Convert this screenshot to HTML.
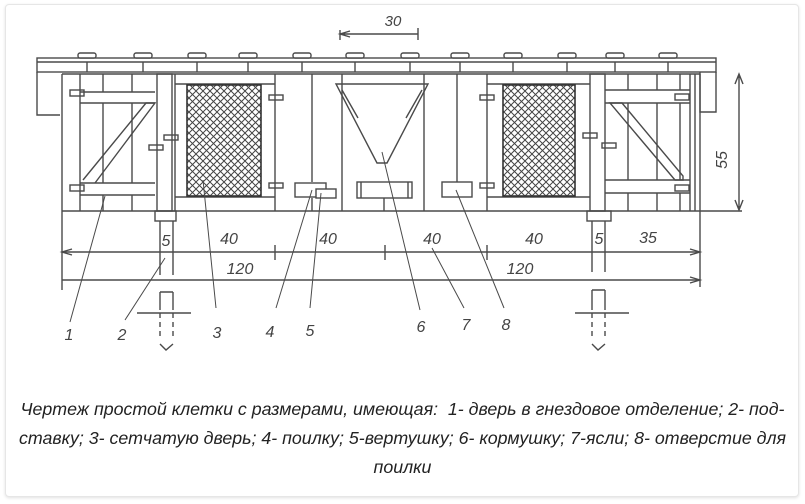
<!DOCTYPE html>
<html><head><meta charset="utf-8"><style>
html,body{margin:0;padding:0;background:#fff;width:805px;height:504px;overflow:hidden}
.card{position:absolute;left:5px;top:4px;width:792px;height:491px;border:1px solid #e6e6e6;border-radius:4px;box-shadow:0 1px 3px rgba(0,0,0,.12);background:#fff}
svg{position:absolute;left:0;top:0}
.cap{position:absolute;left:0;width:805px;top:395px;text-align:center;font-family:"Liberation Sans Narrow","Liberation Sans",sans-serif;font-style:italic;font-size:17.8px;line-height:29px;color:#222;white-space:nowrap}
</style></head><body>
<div class="card"></div>
<svg width="805" height="380" viewBox="0 0 805 380" fill="none" stroke="#4a4a4a" stroke-width="1.4" font-family="Liberation Sans, sans-serif" font-style="italic">
<rect x="37" y="58" width="679" height="14"/>
<line x1="37" y1="62" x2="716" y2="62"/>
<g fill="#fff">
<rect x="78" y="53" width="18" height="5" rx="2"/><rect x="134" y="53" width="18" height="5" rx="2"/><rect x="188" y="53" width="18" height="5" rx="2"/><rect x="239" y="53" width="18" height="5" rx="2"/><rect x="293" y="53" width="18" height="5" rx="2"/><rect x="346" y="53" width="18" height="5" rx="2"/><rect x="401" y="53" width="18" height="5" rx="2"/><rect x="451" y="53" width="18" height="5" rx="2"/><rect x="504" y="53" width="18" height="5" rx="2"/><rect x="558" y="53" width="18" height="5" rx="2"/><rect x="606" y="53" width="18" height="5" rx="2"/><rect x="659" y="53" width="18" height="5" rx="2"/>
</g>
<path d="M87 62V72M143 62V72M197 62V72M248 62V72M302 62V72M355 62V72M410 62V72M460 62V72M513 62V72M567 62V72M615 62V72M668 62V72"/>
<path d="M37 72V115H60"/>
<path d="M700 72V112H716V72"/>
<path d="M62 74H700M62 74V211M62 211H742M700 74V211M695 74V211M690 74V211"/>
<path d="M80 74V211M103 74V92M103 195V211M132 74V92M132 195V211M80 92H155M80 103H155M80 183H155M80 195H155M103 103V183M132 103V183"/>
<path d="M83 180L146 103H155L95 183"/>
<rect x="70" y="90" width="14" height="6"/><rect x="70" y="185" width="14" height="6"/>
<rect x="157" y="74" width="15" height="137"/>
<rect x="155" y="211" width="21" height="10"/>
<path d="M160 221V275M173 221V275M160 292V310M173 292V310M160 292H173M137 313H191"/>
<path d="M160 313V340M173 313V340" stroke-dasharray="5 4"/>
<path d="M160 344L166 350L173 344"/>
<rect x="149" y="145" width="14" height="5"/><rect x="164" y="135" width="14" height="5"/>
<path d="M175 74V211M175 84H275M175 197H275M275 74V211"/>
<defs><pattern id="m" width="7" height="7" patternUnits="userSpaceOnUse"><path d="M0 0L7 7M7 0L0 7" stroke="#444" stroke-width="1"/></pattern></defs>
<rect x="187" y="85" width="74" height="111" fill="url(#m)" stroke="#333" stroke-width="1.6"/>
<rect x="269" y="95" width="14" height="5"/><rect x="269" y="183" width="14" height="5"/>
<path d="M312 74V182M342 74V211M424 74V211M457 74V182M312 198V211M384 198V211"/>
<path d="M336 84H428L387 163H377Z"/>
<path d="M342 90L358 118M422 90L406 118"/>
<rect x="295" y="183" width="31" height="14"/><rect x="316" y="189" width="20" height="9" fill="#fff"/>
<rect x="357" y="182" width="55" height="16"/><path d="M361 182V198M408 182V198"/>
<rect x="442" y="182" width="30" height="15"/>
<path d="M487 74V211M487 84H590M487 197H590"/>
<rect x="503" y="85" width="72" height="111" fill="url(#m)" stroke="#333" stroke-width="1.6"/>
<rect x="480" y="95" width="14" height="5"/><rect x="480" y="183" width="14" height="5"/>
<rect x="590" y="74" width="15" height="137"/>
<rect x="587" y="211" width="24" height="10"/>
<path d="M592 221V272M605 221V272M592 290V310M605 290V310M592 290H605M575 313H629"/>
<path d="M592 313V340M605 313V340" stroke-dasharray="5 4"/>
<path d="M592 344L598 350L605 344"/>
<rect x="583" y="133" width="14" height="5"/><rect x="602" y="143" width="14" height="5"/>
<path d="M605 90H690M605 103H690M605 180H690M605 193H690M628 74V90M657 74V90M680 74V90M628 193V211M657 193V211M680 193V211M628 103V180M657 103V180M680 103V180"/>
<path d="M610 103H622L683 176V180H675Z"/>
<rect x="675" y="94" width="14" height="6"/><rect x="675" y="185" width="14" height="6"/>
<path d="M739 74V210M735 84L739 74L743 84M735 200L739 210L743 200"/>
<text x="727" y="160" transform="rotate(-90 727 160)" fill="#444" stroke="none" font-size="16" text-anchor="middle">55</text>
<path d="M340 30V40M340 34H418M418 28V40M350 31L340 34L350 37" />
<text x="393" y="26" fill="#444" stroke="none" font-size="15" text-anchor="middle">30</text>
<path d="M62 211V290M700 211V287M62 252H700M62 280H700M275 245V260M385 245V260M487 245V260"/>
<path d="M72 249L62 252L72 255M690 249L700 252L690 255M690 277L700 280L690 283"/>
<g fill="#444" stroke="none" font-size="16" text-anchor="middle">
<text x="166" y="246">5</text><text x="229" y="244">40</text><text x="328" y="244">40</text><text x="432" y="244">40</text><text x="534" y="244">40</text><text x="599" y="244">5</text><text x="648" y="243">35</text>
<text x="240" y="274">120</text><text x="520" y="274">120</text>
<text x="69" y="340">1</text><text x="122" y="340">2</text><text x="217" y="338">3</text><text x="270" y="337">4</text><text x="310" y="336">5</text><text x="421" y="332">6</text><text x="466" y="330">7</text><text x="506" y="330">8</text>
</g>
<path d="M105 196L70 322M165 258L125 320M203 180L216 308M312 190L276 308M321 193L310 308M382 152L420 310M432 248L464 308M456 190L504 308" stroke-width="1"/>
</svg>
<div class="cap">Чертеж простой клетки с размерами, имеющая:&nbsp; 1- дверь в гнездовое отделение; 2- под-<br>ставку; 3- сетчатую дверь; 4- поилку; 5-вертушку; 6- кормушку; 7-ясли; 8- отверстие для<br>поилки</div>
</body></html>
